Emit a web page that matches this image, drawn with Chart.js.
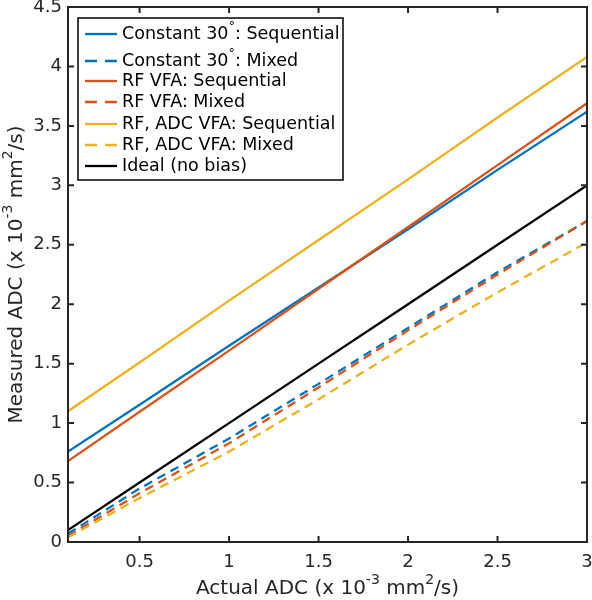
<!DOCTYPE html>
<html>
<head>
<meta charset="utf-8">
<script src="https://cdn.jsdelivr.net/npm/chart.js@4.4.0/dist/chart.umd.min.js"></script>
<style>
  html, body { margin: 0; padding: 0; background: #fff; }
</style>
</head>
<body>
<canvas id="adcChart" width="592" height="600"></canvas>
<script>
// Actual ADC values (x axis)
const actualAdc = [0.1, 0.5, 1, 1.5, 2, 2.5, 3];

// Measured ADC for each protocol
const constSeq = [0.76, 1.155, 1.65, 2.14, 2.63, 3.13, 3.62];
const constMixed = [0.07, 0.45, 0.87, 1.33, 1.8, 2.27, 2.7];
const rfSeq = [0.68, 1.095, 1.61, 2.13, 2.65, 3.17, 3.69];
const rfMixed = [0.05, 0.41, 0.83, 1.3, 1.78, 2.25, 2.7];
const rfAdcSeq = [1.1, 1.51, 2.03, 2.54, 3.05, 3.57, 4.08];
const rfAdcMixed = [0.04, 0.37, 0.76, 1.2, 1.66, 2.1, 2.52];
const ideal = [0.1, 0.5, 1, 1.5, 2, 2.5, 3];

// Tick labels
const xTicks = [0.5, 1, 1.5, 2, 2.5, 3];
const xTickLabels = ['0.5', '1', '1.5', '2', '2.5', '3'];
const yTicks = [0, 0.5, 1, 1.5, 2, 2.5, 3, 3.5, 4, 4.5];
const yTickLabels = ['0', '0.5', '1', '1.5', '2', '2.5', '3', '3.5', '4', '4.5'];

// Legend labels: [text, superscript?]
const legendLabels = [
    [['Constant 30', false], ['°', true], [': Sequential', false]],
    [['Constant 30', false], ['°', true], [': Mixed', false]],
    [['RF VFA: Sequential', false]],
    [['RF VFA: Mixed', false]],
    [['RF, ADC VFA: Sequential', false]],
    [['RF, ADC VFA: Mixed', false]],
    [['Ideal (no bias)', false]]
];

const FONT = '"DejaVu Sans", sans-serif';
const AXIS_COLOR = '#262626';

function toPoints(ys) {
    return actualAdc.map((x, i) => ({ x: x, y: ys[i] }));
}

function makeSet(ys, color, dashed, order) {
    return {
        data: toPoints(ys),
        borderColor: color,
        borderWidth: 2.3,
        borderDash: dashed ? [9, 6] : [],
        pointRadius: 0,
        tension: 0,
        fill: false,
        order: order
    };
}

// Draw text with superscript parts
function drawRich(ctx, parts, x, y, size, align) {
    const supSize = Math.round(size * 0.72);
    let total = 0;
    parts.forEach(p => {
        ctx.font = (p[1] ? supSize : size) + 'px ' + FONT;
        total += ctx.measureText(p[0]).width;
    });
    let cx = align === 'center' ? x - total / 2 : x;
    ctx.textAlign = 'left';
    ctx.textBaseline = 'middle';
    parts.forEach(p => {
        ctx.font = (p[1] ? supSize : size) + 'px ' + FONT;
        ctx.fillText(p[0], cx, p[1] ? y - size * 0.42 : y);
        cx += ctx.measureText(p[0]).width;
    });
}

// Box, inward ticks, titles and legend in MATLAB style
const matlabFrame = {
    id: 'matlabFrame',
    afterDraw(chart) {
        const ctx = chart.ctx;
        const a = chart.chartArea;
        const xs = chart.scales.x;
        const ys = chart.scales.y;
        ctx.save();
        ctx.strokeStyle = AXIS_COLOR;
        ctx.lineWidth = 2;
        ctx.strokeRect(a.left, a.top, a.right - a.left, a.bottom - a.top);

        const tl = 6;
        ctx.beginPath();
        xTicks.forEach(v => {
            const px = xs.getPixelForValue(v);
            ctx.moveTo(px, a.bottom); ctx.lineTo(px, a.bottom - tl);
            ctx.moveTo(px, a.top); ctx.lineTo(px, a.top + tl);
        });
        yTicks.forEach(v => {
            const py = ys.getPixelForValue(v);
            ctx.moveTo(a.left, py); ctx.lineTo(a.left + tl, py);
            ctx.moveTo(a.right, py); ctx.lineTo(a.right - tl, py);
        });
        ctx.stroke();

        // axis titles
        ctx.fillStyle = AXIS_COLOR;
        drawRich(ctx, [['Actual ADC (x 10', false], ['-3', true], [' mm', false], ['2', true], ['/s)', false]],
            (a.left + a.right) / 2, 589, 20, 'center');
        ctx.save();
        ctx.translate(17, (a.top + a.bottom) / 2);
        ctx.rotate(-Math.PI / 2);
        drawRich(ctx, [['Measured ADC (x 10', false], ['-3', true], [' mm', false], ['2', true], ['/s)', false]],
            0, 0, 20, 'center');
        ctx.restore();

        // legend
        const bx = 78, by = 18, bw = 265, bh = 162;
        ctx.fillStyle = '#fff';
        ctx.fillRect(bx, by, bw, bh);
        ctx.strokeStyle = '#000';
        ctx.lineWidth = 1.5;
        ctx.strokeRect(bx, by, bw, bh);
        const rowY = [34, 61, 81, 102, 124, 145, 166];
        chart.data.datasets.forEach((ds, i) => {
            ctx.strokeStyle = ds.borderColor;
            ctx.lineWidth = ds.borderWidth;
            ctx.setLineDash(ds.borderDash.length ? [12, 8] : []);
            ctx.beginPath();
            ctx.moveTo(85, rowY[i]);
            ctx.lineTo(117, rowY[i]);
            ctx.stroke();
            ctx.setLineDash([]);
            ctx.fillStyle = '#000';
            drawRich(ctx, legendLabels[i], 122, rowY[i], 17.5, 'left');
        });
        ctx.restore();
    }
};

new Chart(document.getElementById('adcChart'), {
    type: 'line',
    data: {
        datasets: [
            makeSet(constSeq, '#0072BD', false, 7),
            makeSet(constMixed, '#0072BD', true, 6),
            makeSet(rfSeq, '#D95319', false, 5),
            makeSet(rfMixed, '#D95319', true, 4),
            makeSet(rfAdcSeq, '#EDB120', false, 3),
            makeSet(rfAdcMixed, '#EDB120', true, 2),
            makeSet(ideal, '#000000', false, 1)
        ]
    },
    options: {
        responsive: false,
        animation: false,
        layout: { padding: { top: 7, right: 5, left: 0, bottom: 0 } },
        plugins: { legend: { display: false }, tooltip: { enabled: false } },
        scales: {
            x: {
                type: 'linear',
                min: 0.1,
                max: 3,
                afterBuildTicks: s => { s.ticks = xTicks.map(v => ({ value: v })); },
                afterFit: s => { s.height = 58; s.paddingLeft = 0; s.paddingRight = 0; },
                grid: { display: false, drawTicks: false },
                border: { display: false },
                ticks: {
                    padding: 10,
                    color: AXIS_COLOR,
                    font: { family: FONT, size: 18 },
                    callback: v => xTickLabels[xTicks.indexOf(v)]
                }
            },
            y: {
                type: 'linear',
                min: 0,
                max: 4.5,
                afterBuildTicks: s => { s.ticks = yTicks.map(v => ({ value: v })); },
                afterFit: s => { s.width = 68; s.paddingTop = 0; s.paddingBottom = 0; },
                grid: { display: false, drawTicks: false },
                border: { display: false },
                ticks: {
                    padding: 6,
                    color: AXIS_COLOR,
                    font: { family: FONT, size: 18 },
                    callback: v => yTickLabels[yTicks.indexOf(v)]
                }
            }
        }
    },
    plugins: [matlabFrame]
});
</script>
</body>
</html>
